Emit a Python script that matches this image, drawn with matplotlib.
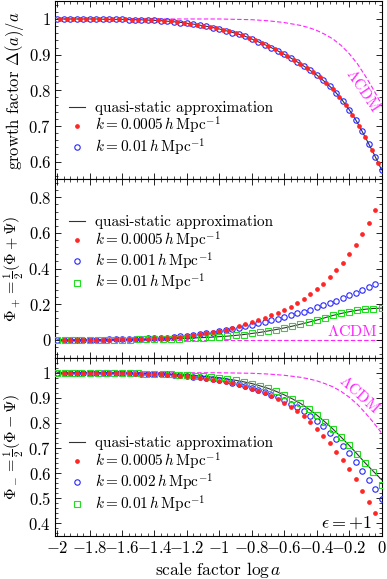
import matplotlib
matplotlib.use("Agg")
import matplotlib.pyplot as plt
from matplotlib.ticker import MultipleLocator, AutoMinorLocator, FuncFormatter
import numpy as np

plt.rcParams['font.family'] = 'serif'
plt.rcParams['font.serif'] = ['cmr10']
plt.rcParams['mathtext.fontset'] = 'cm'
plt.rcParams['axes.formatter.use_mathtext'] = True
plt.rcParams['font.size'] = 11

# sample grids in log a
x_dense = np.round(np.arange(-2.0, 0.001, 0.04), 2)    # 51 points
x_green = np.round(np.arange(-2.0, 0.001, 0.05), 2)    # 41 points
x_top_red = np.round(x_dense[:-1] + 0.02, 2)           # 50 points

# LCDM reference curve (growth factor / potential)
lcdm_x = [-2.0, -1.0, -0.9, -0.8, -0.7, -0.6, -0.5, -0.45, -0.4, -0.35, -0.3,
          -0.25, -0.2, -0.15, -0.1, -0.05, 0.0]
lcdm_y = [1.0, 1.0, 0.999, 0.998, 0.995, 0.990, 0.982, 0.976, 0.968, 0.957, 0.944,
          0.926, 0.903, 0.875, 0.840, 0.802, 0.760]

# --- panel 1: growth factor
qsa_top = [1.000, 1.000, 1.000, 1.000, 1.000, 1.000, 0.999, 0.999, 0.999, 0.998,
           0.998, 0.997, 0.996, 0.995, 0.993, 0.991, 0.988, 0.985, 0.981, 0.977,
           0.972, 0.966, 0.960, 0.953, 0.944, 0.934, 0.924, 0.913, 0.901, 0.888,
           0.874, 0.859, 0.843, 0.824, 0.803, 0.777, 0.746, 0.710, 0.668, 0.624,
           0.577]
red_top = [1.000, 1.000, 1.000, 1.000, 1.000, 1.000, 1.000, 0.999, 0.999, 0.999,
           0.999, 0.998, 0.998, 0.997, 0.996, 0.996, 0.995, 0.993, 0.991, 0.989,
           0.987, 0.984, 0.981, 0.978, 0.974, 0.970, 0.965, 0.960, 0.954, 0.948,
           0.940, 0.932, 0.924, 0.915, 0.906, 0.896, 0.886, 0.874, 0.862, 0.850,
           0.836, 0.820, 0.803, 0.782, 0.759, 0.732, 0.701, 0.668, 0.632, 0.595]
blue_top = [1.000, 1.000, 1.000, 1.000, 1.000, 1.000, 1.000, 0.999, 0.999, 0.999,
            0.999, 0.998, 0.998, 0.998, 0.997, 0.996, 0.995, 0.994, 0.992, 0.990,
            0.988, 0.985, 0.983, 0.980, 0.976, 0.972, 0.967, 0.962, 0.957, 0.951,
            0.944, 0.936, 0.928, 0.919, 0.911, 0.901, 0.891, 0.880, 0.868, 0.856,
            0.843, 0.828, 0.812, 0.793, 0.771, 0.746, 0.717, 0.685, 0.650, 0.614,
            0.577]

# --- panel 2: Phi_+
qsa_mid = [0.000, 0.000, 0.000, 0.000, 0.000, 0.001, 0.001, 0.001, 0.002, 0.002,
           0.003, 0.003, 0.004, 0.005, 0.006, 0.007, 0.009, 0.011, 0.013, 0.015,
           0.018, 0.021, 0.025, 0.030, 0.036, 0.042, 0.050, 0.058, 0.067, 0.077,
           0.088, 0.099, 0.111, 0.124, 0.137, 0.148, 0.158, 0.166, 0.172, 0.176,
           0.178]
red_mid = [0.000, 0.000, 0.000, 0.001, 0.001, 0.001, 0.002, 0.002, 0.003,
           0.003, 0.004, 0.005, 0.006, 0.007, 0.008, 0.010, 0.012, 0.015, 0.018,
           0.022, 0.026, 0.031, 0.037, 0.043, 0.050, 0.058, 0.067, 0.077, 0.087,
           0.100, 0.111, 0.123, 0.137, 0.152, 0.169, 0.187, 0.208, 0.231, 0.256,
           0.285, 0.316, 0.351, 0.390, 0.433, 0.481, 0.533, 0.592, 0.656, 0.730]
blue_mid = [0.000, 0.000, 0.000, 0.001, 0.001, 0.001, 0.002, 0.002, 0.003, 0.003,
            0.004, 0.005, 0.006, 0.007, 0.008, 0.009, 0.011, 0.013, 0.016, 0.019,
            0.023, 0.027, 0.031, 0.036, 0.041, 0.047, 0.053, 0.060, 0.068, 0.076,
            0.085, 0.093, 0.101, 0.110, 0.119, 0.128, 0.138, 0.148, 0.159, 0.170,
            0.182, 0.194, 0.207, 0.220, 0.234, 0.249, 0.264, 0.280, 0.297, 0.316]
green_mid = [0.000, 0.000, 0.000, 0.000, 0.000, 0.001, 0.001, 0.001, 0.002, 0.002,
             0.003, 0.003, 0.004, 0.005, 0.006, 0.007, 0.009, 0.011, 0.013, 0.015,
             0.018, 0.021, 0.025, 0.030, 0.036, 0.042, 0.050, 0.058, 0.067, 0.077,
             0.088, 0.099, 0.111, 0.124, 0.137, 0.148, 0.158, 0.166, 0.172, 0.176,
             0.178]

# --- panel 3: Phi_-
qsa_bot = [1.000, 1.000, 1.000, 1.000, 1.000, 1.000, 1.000, 0.999, 0.999, 0.998,
           0.998, 0.997, 0.996, 0.995, 0.994, 0.992, 0.991, 0.989, 0.986, 0.983,
           0.980, 0.975, 0.970, 0.964, 0.957, 0.948, 0.938, 0.926, 0.912, 0.896,
           0.878, 0.856, 0.832, 0.805, 0.776, 0.744, 0.711, 0.676, 0.640, 0.607,
           0.574]
red_bot = [1.000, 1.000, 1.000, 1.000, 1.000, 1.000, 1.000, 0.999, 0.999,
           0.999, 0.998, 0.997, 0.997, 0.996, 0.995, 0.994, 0.993, 0.991, 0.989,
           0.987, 0.984, 0.981, 0.977, 0.973, 0.969, 0.964, 0.958, 0.952, 0.945,
           0.936, 0.928, 0.918, 0.907, 0.894, 0.880, 0.865, 0.846, 0.826, 0.802,
           0.777, 0.750, 0.720, 0.685, 0.652, 0.616, 0.576, 0.531, 0.484, 0.440]
blue_bot = [1.000, 1.000, 1.000, 1.000, 1.000, 1.000, 1.000, 1.000, 0.999, 0.999,
            0.999, 0.998, 0.998, 0.997, 0.997, 0.996, 0.995, 0.994, 0.992, 0.990,
            0.988, 0.985, 0.983, 0.979, 0.975, 0.971, 0.966, 0.961, 0.955, 0.948,
            0.941, 0.932, 0.924, 0.913, 0.902, 0.890, 0.877, 0.862, 0.846, 0.828,
            0.808, 0.787, 0.762, 0.735, 0.708, 0.679, 0.646, 0.610, 0.574, 0.538,
            0.498]
green_bot = [1.000, 1.000, 1.000, 1.000, 1.000, 1.000, 1.000, 0.999, 0.999, 0.998,
             0.998, 0.997, 0.996, 0.995, 0.994, 0.992, 0.991, 0.989, 0.986, 0.983,
             0.980, 0.975, 0.970, 0.964, 0.957, 0.948, 0.938, 0.926, 0.912, 0.896,
             0.878, 0.856, 0.832, 0.805, 0.776, 0.744, 0.711, 0.676, 0.640, 0.604,
             0.552]

RED = '#ff2626'
BLUE = '#2626ff'
GREEN = '#22dd22'
MAG = '#ff22ff'
LINE = '#333333'

lab_qsa = 'quasi-static approximation'
lab_k = lambda s: r'$k = %s\,h\,\mathrm{Mpc}^{-1}$' % s


def red_pts(ax, x, y, s):
    ax.plot(x, y, ls='none', marker='o', ms=2.4, color=RED, mec=RED, label=lab_k(s), zorder=4)


def blue_pts(ax, x, y, s):
    ax.plot(x, y, ls='none', marker='o', ms=3.9, mfc='none', mec=BLUE, mew=0.8, label=lab_k(s), zorder=3)


def green_pts(ax, x, y, s):
    ax.plot(x, y, ls='none', marker='s', ms=4.5, mfc='none', mec=GREEN, mew=0.8, label=lab_k(s), zorder=3)


def fmt(v, pos):
    return r'$%g$' % round(v, 6)


def add_legend(ax, ytop):
    ax.legend(loc='upper left', bbox_to_anchor=(0.04, ytop), frameon=False,
              borderpad=0, borderaxespad=0, handlelength=1.1, handletextpad=0.6,
              labelspacing=0.02, numpoints=1, fontsize=11)


fig = plt.figure(figsize=(3.87, 5.79), dpi=100)
gs = fig.add_gridspec(3, 1, left=0.1434, right=0.986, top=0.998, bottom=0.0743, hspace=0)
axes = [fig.add_subplot(gs[i]) for i in range(3)]

# top panel
ax = axes[0]
ax.plot(x_green, qsa_top, color=LINE, lw=0.8, label=lab_qsa, zorder=2)
ax.plot(lcdm_x, lcdm_y, color=MAG, lw=0.8, ls=(0, (4, 2)), zorder=1)
red_pts(ax, x_top_red, red_top, '0.0005')
blue_pts(ax, x_dense, blue_top, '0.01')
ax.text(-0.115, 0.80, r'$\Lambda\mathrm{CDM}$', color=MAG, rotation=-56,
        ha='center', va='center', fontsize=11)
ax.set_ylim(0.55, 1.05)
ax.yaxis.set_major_locator(MultipleLocator(0.1))
ax.set_ylabel(r'growth factor $\Delta(a)/a$', fontsize=12)
add_legend(ax, 0.44)

# middle panel
ax = axes[1]
ax.plot(x_green, qsa_mid, color=LINE, lw=0.8, label=lab_qsa, zorder=2)
ax.plot([-2.0, 0.0], [0.0, 0.0], color=MAG, lw=0.8, ls=(0, (4, 2)), zorder=1)
red_pts(ax, x_dense[1:-1], red_mid, '0.0005')
blue_pts(ax, x_dense[:-1], blue_mid, '0.001')
green_pts(ax, x_green, green_mid, '0.01')
ax.text(-0.02, 0.045, r'$\Lambda\mathrm{CDM}$', color=MAG, ha='right', va='center', fontsize=11.5)
ax.set_ylim(-0.1, 0.9)
ax.yaxis.set_major_locator(MultipleLocator(0.2))
ax.set_ylabel(r'$\Phi_+ = \frac{1}{2}(\Phi + \Psi)$', fontsize=11.5)
add_legend(ax, 0.80)

# bottom panel
ax = axes[2]
ax.plot(x_green, qsa_bot, color=LINE, lw=0.8, label=lab_qsa, zorder=2)
ax.plot(lcdm_x, lcdm_y, color=MAG, lw=0.8, ls=(0, (4, 2)), zorder=1)
red_pts(ax, x_dense[1:-1], red_bot, '0.0005')
blue_pts(ax, x_dense, blue_bot, '0.002')
green_pts(ax, x_green, green_bot, '0.01')
ax.text(-0.135, 0.915, r'$\Lambda\mathrm{CDM}$', color=MAG, rotation=-42,
        ha='center', va='center', fontsize=11)
ax.text(-0.06, 0.404, r'$\epsilon = +1$', ha='right', va='center', fontsize=13)
ax.set_ylim(0.35, 1.06)
ax.yaxis.set_major_locator(MultipleLocator(0.1))
ax.set_ylabel(r'$\Phi_- = \frac{1}{2}(\Phi - \Psi)$', fontsize=11.5)
ax.set_xlabel(r'scale factor $\log a$', fontsize=12.5, labelpad=3)
add_legend(ax, 0.56)

for i, ax in enumerate(axes):
    ax.set_xlim(-2.01, 0.0)
    ax.xaxis.set_major_locator(MultipleLocator(0.2))
    ax.xaxis.set_minor_locator(AutoMinorLocator(5))
    ax.yaxis.set_minor_locator(AutoMinorLocator(5))
    ax.xaxis.set_major_formatter(FuncFormatter(fmt))
    ax.yaxis.set_major_formatter(FuncFormatter(fmt))
    ax.tick_params(which='both', direction='in', top=True, right=True, labelsize=12)
    ax.tick_params(which='major', length=4, width=0.6, pad=3)
    ax.tick_params(which='minor', length=2, width=0.5)
    ax.yaxis.set_label_coords(-0.09, 0.5)
    if i < 2:
        ax.tick_params(labelbottom=False)

fig.savefig('out.png', dpi=100)
